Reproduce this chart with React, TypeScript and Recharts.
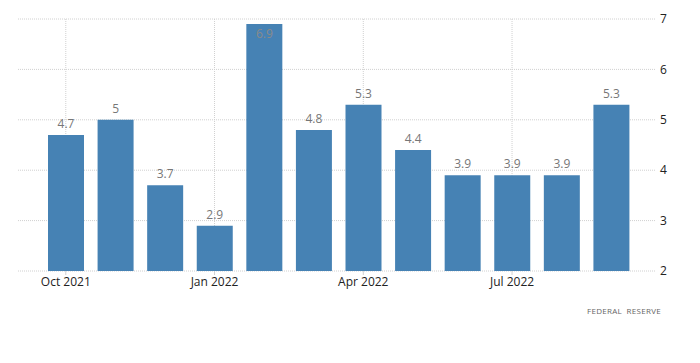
import { BarChart, Bar, XAxis, YAxis, CartesianGrid, LabelList } from 'recharts'

const months = [
  'Oct 2021', 'Nov 2021', 'Dec 2021', 'Jan 2022', 'Feb 2022', 'Mar 2022',
  'Apr 2022', 'May 2022', 'Jun 2022', 'Jul 2022', 'Aug 2022', 'Sep 2022',
]
const values = [4.7, 5, 3.7, 2.9, 6.9, 4.8, 5.3, 4.4, 3.9, 3.9, 3.9, 5.3]
const xTicks = ['Oct 2021', 'Jan 2022', 'Apr 2022', 'Jul 2022']
const yTicks = [2, 3, 4, 5, 6, 7]

const data = months.map((month, i) => ({ month, value: values[i] }))

const font = '"Open Sans", "Liberation Sans", Arial, sans-serif'

// value label sits above the bar, or inside it when there is no room at the top
function ValueLabel(props: any) {
  const { x, y, width, value } = props
  const inside = y < 36
  return (
    <text
      x={x + width / 2}
      y={inside ? y + 14 : y - 7}
      textAnchor="middle"
      fill={inside ? '#8a8a8a' : '#777'}
      fontSize={12}
      fontFamily={font}
    >
      {value}
    </text>
  )
}

// vertical grid only at the labelled months, placed with the axis scale
function verticalLines({ xAxis }: any) {
  try {
    const s = xAxis?.scale
    if (!s) return []
    const call = (v: string) =>
      typeof s === 'function' ? s(v) : s.map ? s.map(v) : s.apply ? s.apply(v) : NaN
    const bw = typeof s.bandwidth === 'function' ? s.bandwidth() : 0
    return xTicks.map((t) => call(t) + bw / 2).filter((v) => Number.isFinite(v))
  } catch (e) {
    return []
  }
}

export default function App() {
  return (
    <div style={{ position: 'absolute', left: 0, top: 0, width: 700, height: 363, background: '#fff' }}>
      <BarChart
        width={700}
        height={363}
        data={data}
        margin={{ top: 19, right: 0, left: 18, bottom: 62 }}
      >
        <CartesianGrid
          stroke="#d0d0d0"
          strokeDasharray="1 1"
          verticalCoordinatesGenerator={verticalLines}
        />
        <XAxis
          dataKey="month"
          ticks={xTicks}
          interval={0}
          padding={{ left: 23, right: 19 }}
          axisLine={false}
          tickLine={{ stroke: '#d0d0d0' }}
          tickSize={4}
          height={30}
          tick={{ fill: '#222', fontSize: 12, fontFamily: font }}
        />
        <YAxis
          orientation="right"
          domain={[2, 7]}
          ticks={yTicks}
          width={45}
          axisLine={false}
          tickLine={false}
          tickSize={0}
          tickMargin={5}
          tick={{ fill: '#222', fontSize: 12, fontFamily: font, textAnchor: 'start' }}
        />
        <Bar dataKey="value" fill="#4682b4" barSize={36} isAnimationActive={false}>
          <LabelList dataKey="value" content={ValueLabel} />
        </Bar>
      </BarChart>
      <div
        style={{
          position: 'absolute',
          left: 587,
          top: 305,
          fontSize: 8,
          letterSpacing: 0.3,
          wordSpacing: 2,
          color: '#666',
          fontFamily: font,
        }}
      >
        FEDERAL RESERVE
      </div>
    </div>
  )
}
